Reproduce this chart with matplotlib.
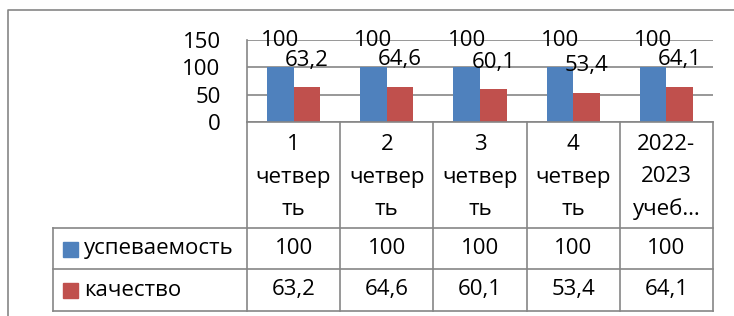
import matplotlib.pyplot as plt
import matplotlib.transforms as mtransforms
from matplotlib.patches import Rectangle

plt.rcParams['font.family'] = ['Open Sans', 'DejaVu Sans']

# data
categories = ['1\nчетвер\nть', '2\nчетвер\nть', '3\nчетвер\nть', '4\nчетвер\nть', '2022-\n2023\nучеб…']
series_names = ['успеваемость', 'качество']
uspev = [100, 100, 100, 100, 100]
kachestvo = [63.2, 64.6, 60.1, 53.4, 64.1]
y_ticks = [0, 50, 100, 150]

blue = '#4F81BD'
red = '#C0504D'
grid_col = '#868686'
fs = 16

W, H = 734, 316
fig = plt.figure(figsize=(W / 100, H / 100), dpi=100)

def fx(px):
    return px / W

def fy(py):
    return 1 - py / H

# plot area in pixels: x 247..713, y 40..122
ax = fig.add_axes([fx(247), fy(122), fx(713) - fx(247), fy(40) - fy(122)])
ax.set_xlim(-0.5, len(categories) - 0.5)
ax.set_ylim(0, 150)

bw = 0.285
x = list(range(len(categories)))
xb = [i - bw / 2 for i in x]
xr = [i + bw / 2 for i in x]
ax.bar(xb, uspev, width=bw, color=blue, zorder=2)
ax.bar(xr, kachestvo, width=bw, color=red, zorder=2)

def fmt(v):
    s = ('%g' % v).replace('.', ',')
    return s

off = 27 * 72 / 100
for xi, v in zip(xb, uspev):
    ax.annotate(fmt(v), (xi, v), xytext=(0, off), textcoords='offset points',
                ha='center', va='center', fontsize=fs, zorder=3)
for xi, v in zip(xr, kachestvo):
    ax.annotate(fmt(v), (xi, v), xytext=(0, off), textcoords='offset points',
                ha='center', va='center', fontsize=fs, zorder=3)

ax.set_yticks(y_ticks)
ax.set_yticklabels([str(t) for t in y_ticks], fontsize=fs)
ax.tick_params(axis='y', length=0, pad=19)
ax.set_xticks([])
ax.yaxis.grid(True, color=grid_col, linewidth=1.2, zorder=0)
ax.set_axisbelow(True)
for s in ['top', 'right']:
    ax.spines[s].set_visible(False)
ax.spines['left'].set_color(grid_col)
ax.spines['bottom'].set_color(grid_col)
ax.spines['left'].set_linewidth(1.2)
ax.spines['bottom'].set_linewidth(1.2)

# data table below the axes
tr = mtransforms.blended_transform_factory(ax.transData, fig.transFigure)
lkw = dict(color=grid_col, linewidth=1.2, clip_on=False)
row_y = [228, 269, 311]
# vertical column lines
for i in range(len(categories) + 1):
    xv = i - 0.5
    fig.add_artist(plt.Line2D([xv, xv], [fy(122), fy(311)], transform=tr, **lkw))
# horizontal row lines
for ry in row_y:
    fig.add_artist(plt.Line2D([fx(53), fx(713)], [fy(ry), fy(ry)], transform=fig.transFigure, **lkw))
fig.add_artist(plt.Line2D([fx(53), fx(53)], [fy(228), fy(311)], transform=fig.transFigure, **lkw))

# header
for i, c in enumerate(categories):
    fig.text(i, fy(177), c, transform=tr, ha='center', va='center', fontsize=fs, linespacing=1.7)

# rows
rows = [(series_names[0], uspev, blue, 248.5), (series_names[1], kachestvo, red, 290)]
for name, vals, col, cy in rows:
    fig.add_artist(Rectangle((fx(63), fy(cy + 8)), fx(15), fy(0) - fy(15),
                             transform=fig.transFigure, color=col))
    fig.text(fx(84), fy(cy), name, ha='left', va='center', fontsize=fs)
    for i, v in enumerate(vals):
        fig.text(i, fy(cy), fmt(v), transform=tr, ha='center', va='center', fontsize=fs)

# outer chart frame
fig.add_artist(plt.Line2D([fx(8), fx(8), fx(740)], [fy(320), fy(10), fy(10)],
                          transform=fig.transFigure, color=grid_col, linewidth=1.2))

fig.savefig('out.png', dpi=100)
